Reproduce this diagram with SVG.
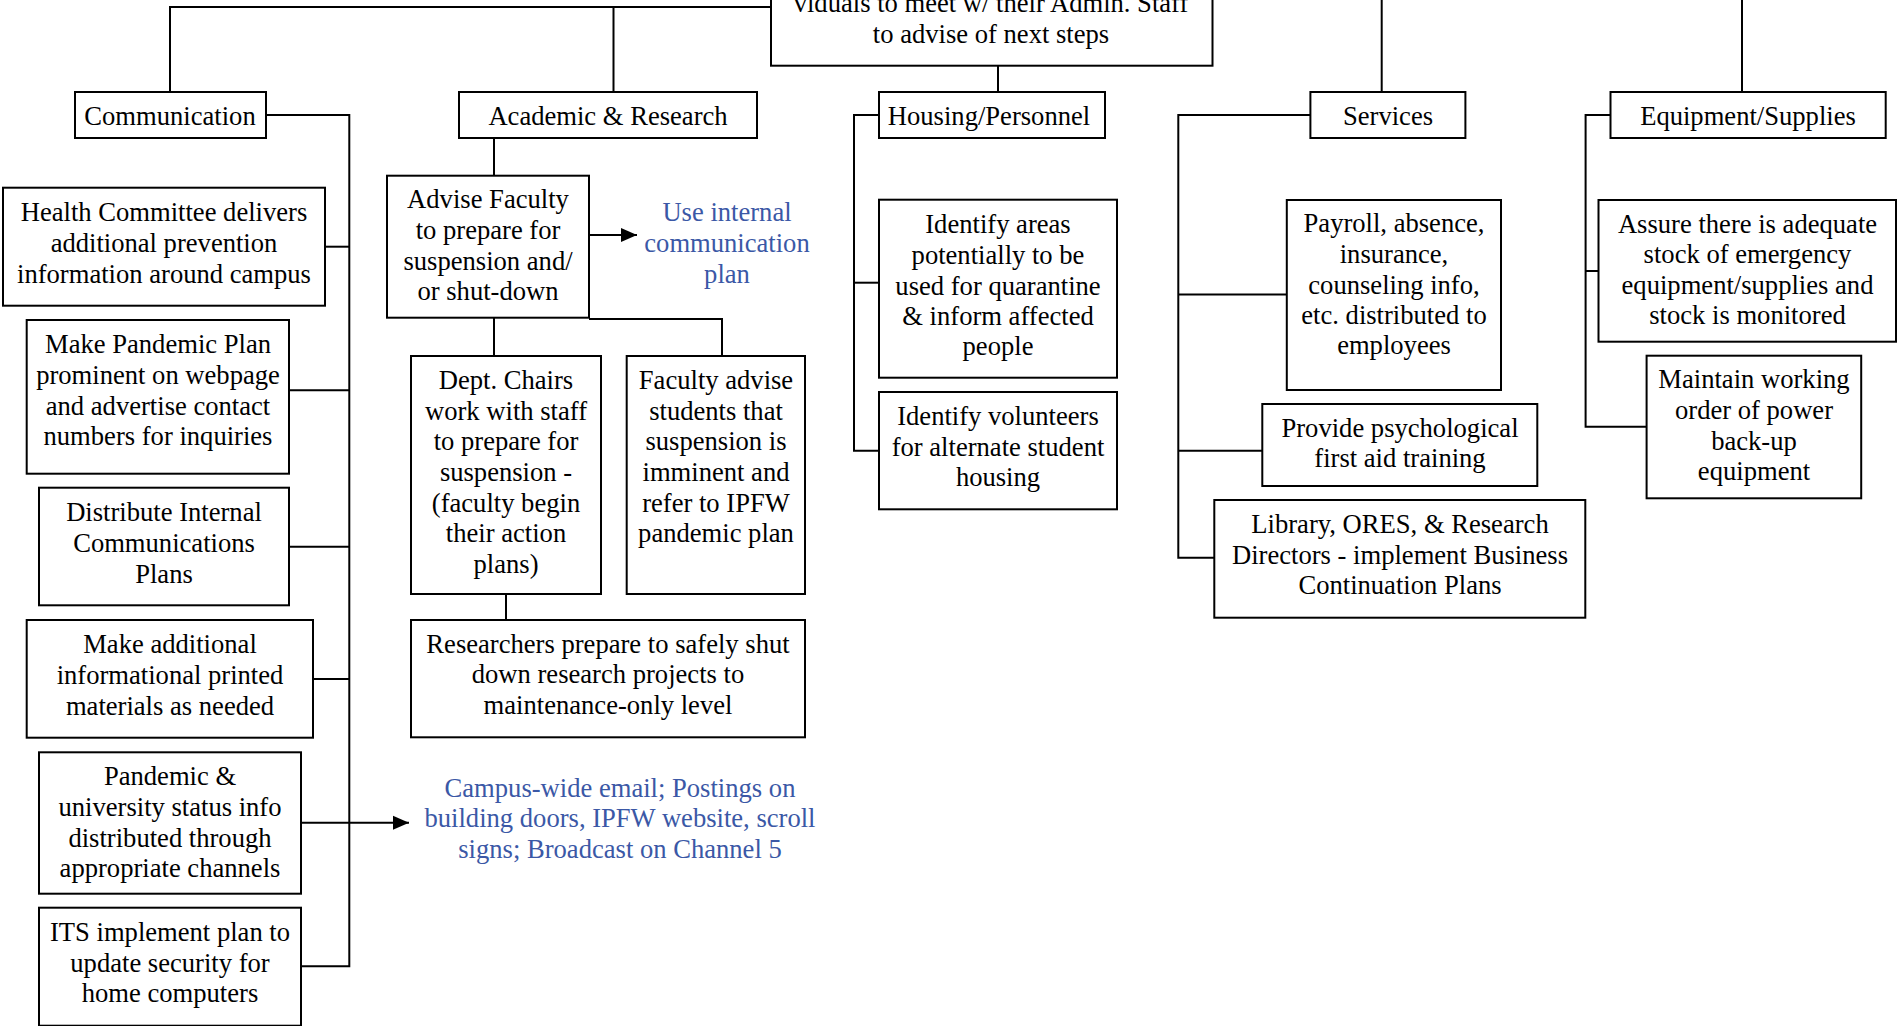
<svg xmlns="http://www.w3.org/2000/svg" width="1898" height="1026" viewBox="0 0 1898 1026">
<style>
.box{fill:#fff;stroke:#000;stroke-width:2}
.c{fill:none;stroke:#000;stroke-width:2}
text{font-family:"Liberation Serif","Times New Roman",serif;font-size:26.6px;text-anchor:middle;fill:#000}
.blue{fill:#3b58a6}
</style>
<defs>
<marker id="ah" markerUnits="userSpaceOnUse" markerWidth="16" markerHeight="16" refX="16" refY="8" orient="auto">
<path d="M0,1 L16,8 L0,15 z" fill="#000"/>
</marker>
</defs>
<rect width="1898" height="1026" fill="#fff"/>
<g id="connectors">
<path class="c" d="M170,92 V7 H771"/>
<path class="c" d="M613.5,7 V92"/>
<path class="c" d="M998,66 V92"/>
<path class="c" d="M1381.7,0 V92"/>
<path class="c" d="M1742,0 V92"/>
<path class="c" d="M266,115 H349.3 V966.3 H301"/>
<path class="c" d="M325,246.7 H349.3"/>
<path class="c" d="M289,390.3 H349.3"/>
<path class="c" d="M289,546.7 H349.3"/>
<path class="c" d="M313,679 H349.3"/>
<path class="c" d="M301,822.7 H409" marker-end="url(#ah)"/>
<path class="c" d="M494,138 V176"/>
<path class="c" d="M589,235 H637" marker-end="url(#ah)"/>
<path class="c" d="M494,318 V356"/>
<path class="c" d="M589,319 H722 V356"/>
<path class="c" d="M506,594 V620"/>
<path class="c" d="M879,115 H854 V450.7 H879"/>
<path class="c" d="M854,282.7 H879"/>
<path class="c" d="M1310.4,115 H1178.3 V557.7 H1214.3"/>
<path class="c" d="M1178.3,294.5 H1286.8"/>
<path class="c" d="M1178.3,450.7 H1262.3"/>
<path class="c" d="M1610.5,115 H1585.6 V426.7 H1646.6"/>
<path class="c" d="M1585.6,271 H1598.5"/>
</g>
<g id="top">
<rect class="box" x="771" y="-20" width="441.5" height="85.7"/>
<text x="991" y="11.7">viduals to meet w/ their Admin. Staff</text>
<text x="991" y="42.7">to advise of next steps</text>
</g>
<g id="communication">
<rect class="box" x="75" y="92" width="191" height="46"/>
<text x="170" y="125">Communication</text>
</g>
<g id="health">
<rect class="box" x="3" y="187.7" width="322" height="118"/>
<text x="164" y="221">Health Committee delivers</text>
<text x="164" y="252">additional prevention</text>
<text x="164" y="283">information around campus</text>
</g>
<g id="pandemic-plan">
<rect class="box" x="26.7" y="320" width="262.3" height="153.7"/>
<text x="158" y="353.3">Make Pandemic Plan</text>
<text x="158" y="384">prominent on webpage</text>
<text x="158" y="414.5">and advertise contact</text>
<text x="158" y="445">numbers for inquiries</text>
</g>
<g id="distribute">
<rect class="box" x="39" y="487.7" width="250" height="117.6"/>
<text x="164" y="520.7">Distribute Internal</text>
<text x="164" y="551.7">Communications</text>
<text x="164" y="582.7">Plans</text>
</g>
<g id="printed">
<rect class="box" x="26.7" y="620" width="286.3" height="117.7"/>
<text x="170" y="652.5">Make additional</text>
<text x="170" y="683.5">informational printed</text>
<text x="170" y="714.5">materials as needed</text>
</g>
<g id="status">
<rect class="box" x="39" y="752.3" width="262" height="141.4"/>
<text x="170" y="785">Pandemic &amp;</text>
<text x="170" y="815.7">university status info</text>
<text x="170" y="846.7">distributed through</text>
<text x="170" y="876.7">appropriate channels</text>
</g>
<g id="its">
<rect class="box" x="39" y="907.7" width="262" height="118"/>
<text x="170" y="941">ITS implement plan to</text>
<text x="170" y="971.7">update security for</text>
<text x="170" y="1002.3">home computers</text>
</g>
<g id="campus-wide">
<text class="blue" x="620" y="796.7">Campus-wide email; Postings on</text>
<text class="blue" x="620" y="827.3">building doors, IPFW website, scroll</text>
<text class="blue" x="620" y="858.3">signs; Broadcast on Channel 5</text>
</g>
<g id="academic">
<rect class="box" x="459" y="92" width="298" height="46"/>
<text x="608" y="125">Academic &amp; Research</text>
</g>
<g id="advise">
<rect class="box" x="387" y="175.7" width="202" height="142"/>
<text x="488" y="208.3">Advise Faculty</text>
<text x="488" y="239.3">to prepare for</text>
<text x="488" y="270">suspension and/</text>
<text x="488" y="300">or shut-down</text>
</g>
<g id="internal-plan">
<text class="blue" x="727" y="221">Use internal</text>
<text class="blue" x="727" y="252">communication</text>
<text class="blue" x="727" y="283">plan</text>
</g>
<g id="dept">
<rect class="box" x="411" y="356" width="190" height="238"/>
<text x="506" y="389.3">Dept. Chairs</text>
<text x="506" y="419.7">work with staff</text>
<text x="506" y="450.3">to prepare for</text>
<text x="506" y="481">suspension -</text>
<text x="506" y="511.7">(faculty begin</text>
<text x="506" y="542.3">their action</text>
<text x="506" y="572.7">plans)</text>
</g>
<g id="faculty-advise">
<rect class="box" x="626.7" y="356" width="178.3" height="238"/>
<text x="716" y="389.3">Faculty advise</text>
<text x="716" y="419.7">students that</text>
<text x="716" y="450.3">suspension is</text>
<text x="716" y="481">imminent and</text>
<text x="716" y="511.7">refer to IPFW</text>
<text x="716" y="542.3">pandemic plan</text>
</g>
<g id="researchers">
<rect class="box" x="411" y="620" width="394" height="117.3"/>
<text x="608" y="652.7">Researchers prepare to safely shut</text>
<text x="608" y="683.3">down research projects to</text>
<text x="608" y="714.3">maintenance-only level</text>
</g>
<g id="housing">
<rect class="box" x="879" y="92" width="226" height="46"/>
<text x="989" y="125">Housing/Personnel</text>
</g>
<g id="identify-areas">
<rect class="box" x="879" y="199.7" width="238" height="178"/>
<text x="998" y="233.3">Identify areas</text>
<text x="998" y="264">potentially to be</text>
<text x="998" y="295">used for quarantine</text>
<text x="998" y="325">&amp; inform affected</text>
<text x="998" y="355">people</text>
</g>
<g id="identify-volunteers">
<rect class="box" x="879" y="392" width="238" height="117.3"/>
<text x="998" y="425">Identify volunteers</text>
<text x="998" y="456">for alternate student</text>
<text x="998" y="486">housing</text>
</g>
<g id="services">
<rect class="box" x="1310.4" y="92" width="155" height="46"/>
<text x="1388" y="125">Services</text>
</g>
<g id="payroll">
<rect class="box" x="1286.8" y="200" width="214.2" height="190"/>
<text x="1394" y="232.3">Payroll, absence,</text>
<text x="1394" y="263.3">insurance,</text>
<text x="1394" y="294.3">counseling info,</text>
<text x="1394" y="324.3">etc. distributed to</text>
<text x="1394" y="354">employees</text>
</g>
<g id="psych">
<rect class="box" x="1262.3" y="404" width="275" height="82"/>
<text x="1400" y="436.7">Provide psychological</text>
<text x="1400" y="467.3">first aid training</text>
</g>
<g id="library">
<rect class="box" x="1214.3" y="500" width="371" height="117.7"/>
<text x="1400" y="532.7">Library, ORES, &amp; Research</text>
<text x="1400" y="564.3">Directors - implement Business</text>
<text x="1400" y="594.3">Continuation Plans</text>
</g>
<g id="equipment">
<rect class="box" x="1610.5" y="92" width="275.2" height="46"/>
<text x="1748" y="125">Equipment/Supplies</text>
</g>
<g id="assure">
<rect class="box" x="1598.5" y="200" width="297.5" height="141.7"/>
<text x="1747.5" y="233.3">Assure there is adequate</text>
<text x="1747.5" y="263.3">stock of emergency</text>
<text x="1747.5" y="294.3">equipment/supplies and</text>
<text x="1747.5" y="324.3">stock is monitored</text>
</g>
<g id="maintain">
<rect class="box" x="1646.6" y="355.7" width="214.6" height="142.6"/>
<text x="1754" y="388.3">Maintain working</text>
<text x="1754" y="419.3">order of power</text>
<text x="1754" y="450">back-up</text>
<text x="1754" y="480">equipment</text>
</g>
</svg>
